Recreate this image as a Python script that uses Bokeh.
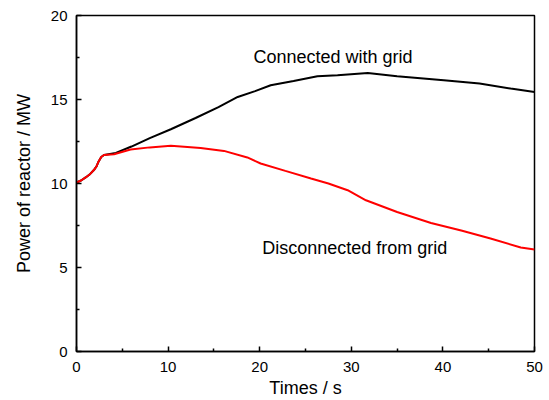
from bokeh.plotting import figure
from bokeh.models import Label, Range1d, FixedTicker
from bokeh.embed import file_html
from bokeh.resources import INLINE

# Connected with grid (black)
t_conn = [0, 0.5, 1.0, 1.5, 1.9, 2.2, 2.4, 2.7, 3.0, 4.3, 6.0, 8.0, 10.3, 13.0, 15.5, 17.6, 19.5, 21.2, 23.7, 26.3, 28.5, 31.8, 35.0, 40.1, 44.0, 47.4, 50.0]
p_conn = [10.06, 10.18, 10.36, 10.57, 10.8, 11.03, 11.3, 11.58, 11.7, 11.82, 12.2, 12.7, 13.23, 13.9, 14.55, 15.15, 15.5, 15.85, 16.1, 16.39, 16.45, 16.58, 16.39, 16.15, 15.95, 15.65, 15.45]

# Disconnected from grid (red)
t_disc = [0, 0.5, 1.0, 1.5, 1.9, 2.2, 2.4, 2.7, 3.0, 4.1, 5.9, 8.0, 10.3, 13.55, 16.1, 18.65, 20.1, 22.8, 25.6, 27.5, 29.6, 31.6, 35.0, 38.7, 42.0, 45.2, 48.5, 50.0]
p_disc = [10.06, 10.18, 10.36, 10.57, 10.8, 11.03, 11.3, 11.58, 11.7, 11.74, 12.02, 12.15, 12.24, 12.12, 11.94, 11.55, 11.19, 10.75, 10.3, 10.0, 9.6, 9.0, 8.3, 7.65, 7.2, 6.73, 6.19, 6.07]

x_major = [0, 10, 20, 30, 40, 50]
x_minor = [5, 15, 25, 35, 45]
y_major = [0, 5, 10, 15, 20]
y_minor = [2.5, 7.5, 12.5, 17.5]

FONT = "Liberation Sans"

p = figure(width=549, height=400, output_backend="svg", toolbar_location=None,
           x_range=Range1d(0, 50), y_range=Range1d(0, 20),
           min_border_left=76, min_border_right=15, min_border_top=15, min_border_bottom=49)

p.line(t_conn, p_conn, line_color="black", line_width=2)
p.line(t_disc, p_disc, line_color="#ff0000", line_width=2)

p.xgrid.visible = False
p.ygrid.visible = False
p.outline_line_color = "black"
p.outline_line_width = 1.5
p.outline_line_alpha = 1.0

p.xaxis.ticker = FixedTicker(ticks=x_major, minor_ticks=x_minor)
p.yaxis.ticker = FixedTicker(ticks=y_major, minor_ticks=y_minor)

for ax in (p.xaxis, p.yaxis):
    ax.axis_line_width = 1.5
    ax.axis_line_color = "black"
    ax.major_tick_in = 5
    ax.major_tick_out = 0
    ax.minor_tick_in = 3
    ax.minor_tick_out = 0
    ax.major_tick_line_width = 1.5
    ax.minor_tick_line_width = 1.5
    ax.major_tick_line_color = "black"
    ax.minor_tick_line_color = "black"
    ax.major_label_text_font = FONT
    ax.major_label_text_font_size = "15px"
    ax.major_label_text_color = "black"
    ax.axis_label_text_font = FONT
    ax.axis_label_text_font_size = "18px"
    ax.axis_label_text_font_style = "normal"
    ax.axis_label_text_color = "black"

p.xaxis.major_label_standoff = 10
p.yaxis.major_label_standoff = 9
p.xaxis.axis_label = "Times / s"
p.yaxis.axis_label = "Power of reactor / MW"
p.xaxis.axis_label_standoff = 3
p.yaxis.axis_label_standoff = 14

p.add_layout(Label(x=28.0, y=17.54, text="Connected with grid", text_align="center",
                   text_baseline="middle", text_font=FONT, text_font_size="18px",
                   text_color="black"))
p.add_layout(Label(x=30.37, y=6.14, text="Disconnected from grid", text_align="center",
                   text_baseline="middle", text_font=FONT, text_font_size="18px",
                   text_color="black"))

open("out.html", "w").write(file_html(p, INLINE))
